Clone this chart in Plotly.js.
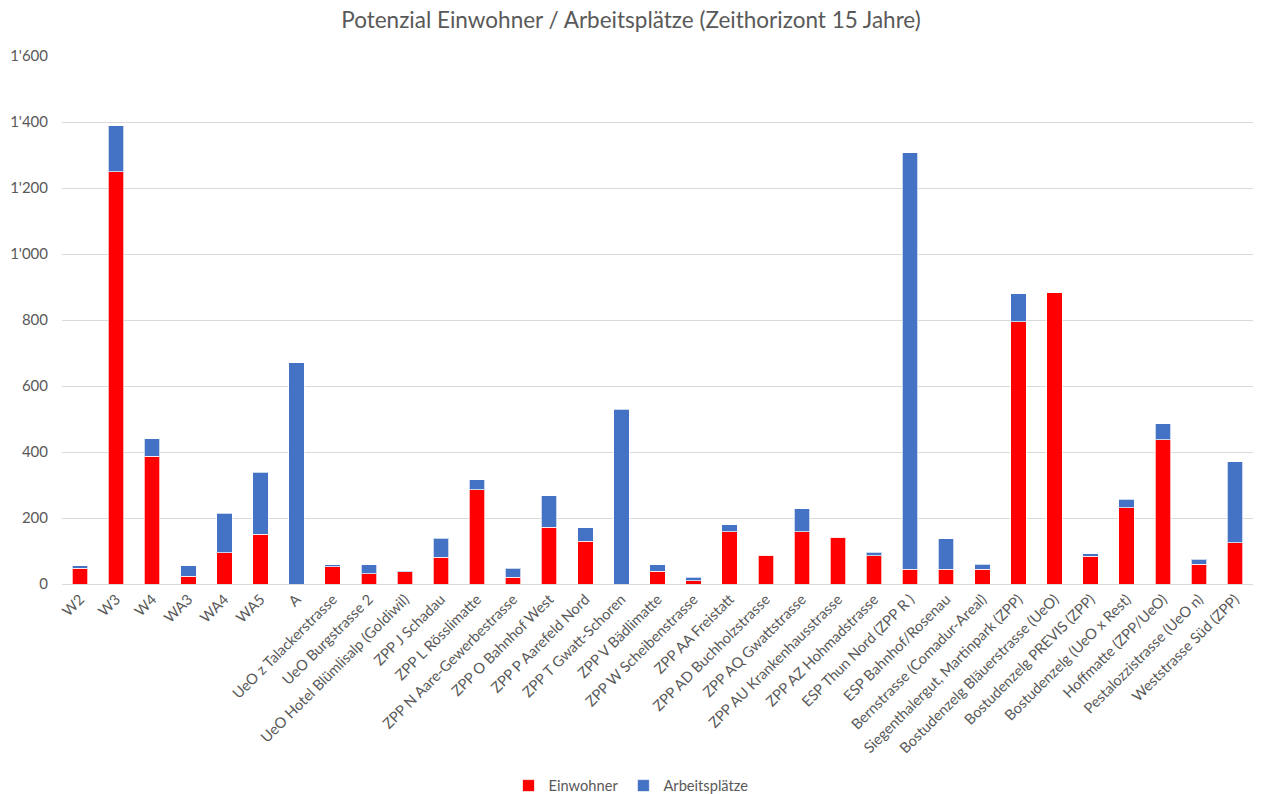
<!DOCTYPE html>
<html>
<head>
<meta charset="utf-8">
<script src="https://cdn.plot.ly/plotly-3.0.1.min.js"></script>
<style>html,body{margin:0;padding:0;background:#fff;}#chart{width:1262px;height:794px;}</style>
</head>
<body>
<div id="chart"></div>
<script>
const categories = [
  "W2", "W3", "W4", "WA3", "WA4", "WA5", "A",
  "UeO z Talackerstrasse", "UeO Burgstrasse 2", "UeO Hotel Blümlisalp (Goldiwil)",
  "ZPP J Schadau", "ZPP L Rösslimatte", "ZPP N Aare-Gewerbestrasse", "ZPP O Bahnhof West",
  "ZPP P Aarefeld Nord", "ZPP T Gwatt-Schoren", "ZPP V Bädlimatte", "ZPP W Scheibenstrasse",
  "ZPP AA Freistatt", "ZPP AD Buchholzstrasse", "ZPP AQ Gwattstrasse", "ZPP AU Krankenhausstrasse",
  "ZPP AZ Hohmadstrasse", "ESP Thun Nord (ZPP R )", "ESP Bahnhof/Rosenau", "Bernstrasse (Comadur-Areal)",
  "Siegenthalergut, Martinpark (ZPP)", "Bostudenzelg Bläuerstrasse (UeO)", "Bostudenzelg PREVIS (ZPP)",
  "Bostudenzelg (UeO x Rest)", "Hoffmatte (ZPP/UeO)", "Pestalozzistrasse (UeO n)", "Weststrasse Süd (ZPP)"
];
const einwohner = [
  48, 1250, 387, 24, 95, 151, 0,
  53, 31, 37,
  81, 285, 21, 172,
  130, 0, 39, 10,
  159, 87, 159, 141,
  85, 44, 45, 45,
  794, 883, 84,
  231, 437, 60, 125
];
const arbeitsplaetze = [
  8, 138, 53, 31, 119, 188, 671,
  5, 28, 3,
  57, 31, 27, 95,
  41, 529, 20, 11,
  20, 0, 69, 0,
  11, 1263, 92, 15,
  86, 0, 8,
  26, 48, 15, 246
];
const seriesNames = ["Einwohner", "Arbeitsplätze"];
const chartTitle = "Potenzial Einwohner / Arbeitsplätze (Zeithorizont 15 Jahre)";

const fontFam = "Lato, 'Open Sans', sans-serif";
const grey = "#595959";

const traces = [
  {
    type: "bar", name: seriesNames[0], x: categories, y: einwohner,
    marker: {color: "#FF0000", line: {color: "rgba(255,255,255,0.7)", width: 1}},
    hoverinfo: "x+y+name"
  },
  {
    type: "bar", name: seriesNames[1], x: categories, y: arbeitsplaetze,
    marker: {color: "#4472C4", line: {color: "rgba(255,255,255,0.7)", width: 1}},
    hoverinfo: "x+y+name"
  }
];

const layout = {
  width: 1262, height: 794,
  barmode: "stack",
  bargap: 0.57,
  separators: ".'",
  paper_bgcolor: "#fff", plot_bgcolor: "#fff",
  margin: {l: 62, r: 9, t: 56, b: 210, autoexpand: false},
  title: {text: chartTitle, font: {family: fontFam, size: 22.5, color: grey}, x: 0.5, xanchor: "center", y: 0.975, yanchor: "middle"},
  font: {family: fontFam, size: 14.67, color: grey},
  xaxis: {
    type: "category", tickangle: -45, showgrid: false, zeroline: false,
    showline: true, linecolor: "#d9d9d9", linewidth: 1,
    ticks: "", tickfont: {family: fontFam, size: 14.67, color: grey}, automargin: false
  },
  yaxis: {
    range: [0, 1600], dtick: 200, tickformat: ",d",
    showgrid: true, gridcolor: "#d9d9d9", gridwidth: 1,
    zeroline: false, showline: false, ticks: "", ticklabelstandoff: 13,
    tickfont: {family: fontFam, size: 15, color: grey}, automargin: false
  },
  legend: {
    orientation: "h", x: 0.5, xanchor: "center", xref: "container",
    y: 0.01, yanchor: "middle", yref: "container",
    font: {family: fontFam, size: 14.67, color: grey}, traceorder: "normal",
    itemwidth: 30
  },
  showlegend: true
};

Plotly.newPlot("chart", traces, layout, {displayModeBar: false, staticPlot: true});
</script>
</body>
</html>
